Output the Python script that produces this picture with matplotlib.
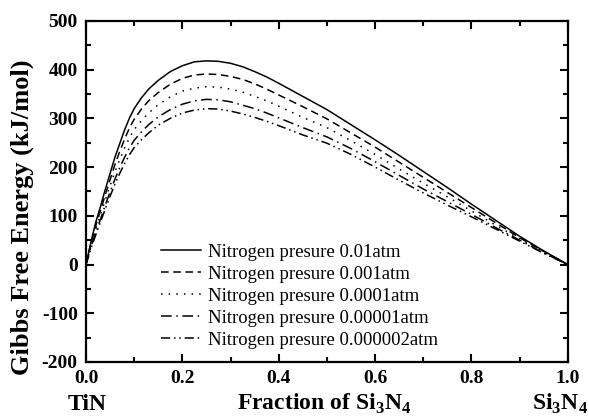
import numpy as np
import matplotlib
matplotlib.use("Agg")
import matplotlib.pyplot as plt
from matplotlib.ticker import MultipleLocator

plt.rcParams['font.family'] = ['Liberation Serif', 'DejaVu Serif']
plt.rcParams['mathtext.fontset'] = 'custom'
plt.rcParams['mathtext.rm'] = 'Liberation Serif'
plt.rcParams['mathtext.bf'] = 'Liberation Serif:bold'
plt.rcParams['axes.unicode_minus'] = False

# ---- data (fraction of Si3N4 vs Gibbs free energy, kJ/mol) ----
frac = [0, 0.01, 0.02, 0.03, 0.04, 0.05, 0.06, 0.07, 0.08, 0.09, 0.1, 0.115, 0.13, 0.15,
        0.175, 0.2, 0.225, 0.25, 0.275, 0.3, 0.325, 0.35, 0.375, 0.4, 0.45, 0.5, 0.55,
        0.6, 0.65, 0.7, 0.75, 0.8, 0.85, 0.9, 0.95, 1.0]
g_001 = [0, 45, 86, 119, 154, 187, 220, 248, 276, 300, 320, 342, 360, 378,
         396, 408, 416, 418, 417, 413, 406, 396, 385, 372, 345, 318, 287,
         256, 224, 191, 158, 124, 91, 58, 28, 0]
g_0001 = [0, 42, 79, 110, 143, 174, 205, 232, 257, 280, 298, 319, 336, 353,
          370, 382, 389, 391, 390, 386, 380, 371, 360, 348, 324, 299, 270,
          241, 210, 179, 148, 117, 86, 55, 27, 0]
g_00001 = [0, 38, 72, 102, 132, 162, 190, 215, 239, 260, 277, 295, 311, 328,
           344, 356, 362, 365, 364, 360, 354, 345, 336, 325, 302, 281, 254,
           226, 196, 167, 139, 110, 81, 53, 25, 0]
g_000001 = [0, 35, 65, 93, 122, 149, 175, 199, 220, 239, 255, 272, 287, 303,
            318, 329, 336, 339, 338, 334, 327, 320, 311, 301, 281, 262, 238,
            211, 183, 155, 129, 103, 76, 50, 24, 0]
g_0000002 = [0, 32, 60, 87, 114, 140, 165, 187, 207, 225, 240, 256, 270, 286,
             300, 311, 317, 320, 319, 315, 309, 302, 294, 285, 266, 249, 226,
             200, 173, 147, 122, 98, 73, 48, 23, 0]

labels = ['Nitrogen presure 0.01atm', 'Nitrogen presure 0.001atm',
          'Nitrogen presure 0.0001atm', 'Nitrogen presure 0.00001atm',
          'Nitrogen presure 0.000002atm']
series = [g_001, g_0001, g_00001, g_000001, g_0000002]
styles = ['-', (0, (5, 3)), (0, (1, 4)), (0, (7, 3, 1, 3)), (0, (6, 2.5, 1, 2.5, 1, 2.5))]

fig = plt.figure(figsize=(5.89, 4.18), dpi=100)
ax = fig.add_axes([0.146, 0.134, 0.818, 0.816])

for y, ls, lab in zip(series, styles, labels):
    ax.plot(frac, y, color='black', linestyle=ls, linewidth=1.1, label=lab)

ax.set_xlim(0, 1.0)
ax.set_ylim(-200, 500)
ax.xaxis.set_major_locator(MultipleLocator(0.2))
ax.xaxis.set_minor_locator(MultipleLocator(0.1))
ax.yaxis.set_major_locator(MultipleLocator(100))
ax.yaxis.set_minor_locator(MultipleLocator(50))
ax.set_xticks([0, 0.2, 0.4, 0.6, 0.8, 1.0])
ax.set_xticklabels(['0.0', '0.2', '0.4', '0.6', '0.8', '1.0'])

ax.tick_params(which='both', direction='in', top=True, right=True, width=1.5)
ax.tick_params(which='major', length=6, labelsize=14)
ax.tick_params(axis='x', which='major', pad=6)
ax.tick_params(axis='y', which='major', pad=6)
ax.tick_params(which='minor', length=3.5)
for lbl in ax.get_xticklabels() + ax.get_yticklabels():
    lbl.set_fontweight('bold')
for sp in ax.spines.values():
    sp.set_linewidth(1.6)

fig.text(0.038, 0.48, 'Gibbs Free Energy (kJ/mol)', fontsize=19, fontweight='bold',
         rotation=90, ha='center', va='center')
fig.text(0.551, 0.019, r'Fraction of Si$_\mathbf{3}$N$_\mathbf{4}$', fontsize=17,
         fontweight='bold', ha='center', va='baseline')
fig.text(0.148, 0.019, 'TiN', fontsize=17, fontweight='bold', ha='center', va='baseline')
fig.text(0.998, 0.019, r'Si$_\mathbf{3}$N$_\mathbf{4}$', fontsize=17, fontweight='bold',
         ha='right', va='baseline')

ax.legend(loc='lower left', bbox_to_anchor=(0.156, 0.038), frameon=False, fontsize=13.5,
          handlelength=2.13, handletextpad=0.37, labelspacing=0.26, borderpad=0,
          borderaxespad=0)

fig.savefig('out.png', dpi=100)
